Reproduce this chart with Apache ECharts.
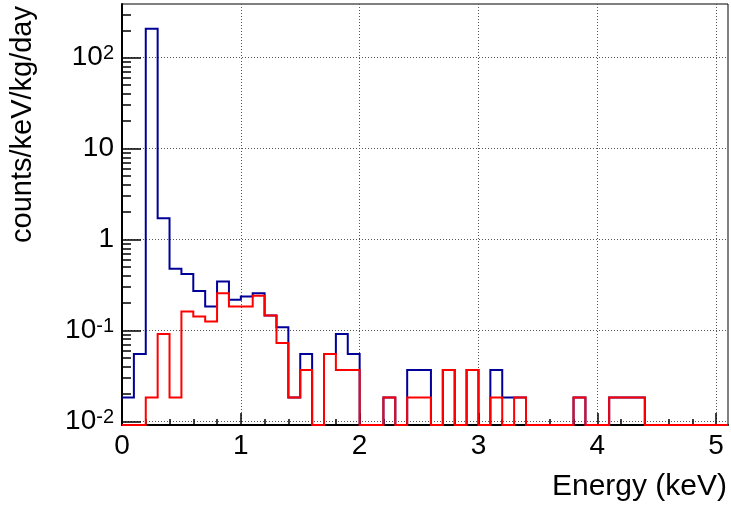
<!DOCTYPE html>
<html>
<head>
<meta charset="utf-8">
<script src="https://cdn.jsdelivr.net/npm/echarts@6/dist/echarts.min.js"></script>
<style>
  html, body { margin: 0; padding: 0; background: #fff; }
  #chart { width: 731px; height: 510px; }
</style>
</head>
<body>
<div id="chart"></div>
<script>
// binning (keV)
var binWidth = 0.1;
var xMax = 5.1;

// counts/keV/kg/day per 0.1 keV bin (0 = empty bin)
var allEvents = [
  0.0183, 0.055, 208, 1.71, 0.478, 0.418, 0.272, 0.183, 0.344, 0.218,
  0.236, 0.257, 0.146, 0.108, 0.0183, 0.055, 0, 0.055, 0.0915, 0.055,
  0, 0, 0.0183, 0, 0.0366, 0.0366, 0, 0.0366, 0, 0.0366,
  0, 0.0366, 0.0183, 0.0183, 0, 0, 0, 0, 0.0183, 0,
  0, 0.0183, 0.0183, 0.0183, 0, 0, 0, 0, 0, 0, 0
];
var selected = [
  0, 0, 0.0183, 0.0915, 0.0183, 0.161, 0.142, 0.125, 0.257, 0.183,
  0.183, 0.241, 0.146, 0.0726, 0.0183, 0.0366, 0, 0.055, 0.0366, 0.0366,
  0, 0, 0.0183, 0, 0.0183, 0.0183, 0, 0.0366, 0, 0.0366,
  0, 0.0183, 0, 0.0183, 0, 0, 0, 0, 0.0183, 0,
  0, 0.0183, 0.0183, 0.0183, 0, 0, 0, 0, 0, 0, 0
];

// axes
var xTicks = [0, 1, 2, 3, 4, 5];
var yMin = 0.0091, yMax = 390;
var yTicks = [0.01, 0.1, 1, 10, 100];
var yTickText = ['10{s|-2}', '10{s|-1}', '1', '10', '10{s|2}'];

var font = '"Liberation Sans", Arial, Helvetica, sans-serif';

// step outline, empty bins drop to the frame bottom like ROOT does
function steps(vals) {
  var pts = [];
  for (var i = 0; i < vals.length; i++) {
    pts.push([+(i * binWidth).toFixed(2), vals[i] > 0 ? vals[i] : yMin]);
  }
  pts.push([xMax, pts[pts.length - 1][1]]);
  return pts;
}

// minor tick positions
var xMinor = [];
for (var i = 1; i * 0.2 < xMax; i++) {
  if (i % 5) xMinor.push(+(i * 0.2).toFixed(1));
}
var yMinor = [];
for (var d = -2; d <= 2; d++) {
  for (var k = 2; k <= 9; k++) {
    var v = parseFloat((k * Math.pow(10, d)).toPrecision(3));
    if (v > yMin && v < yMax) yMinor.push(v);
  }
}

// always hand back a string, also for the axis extent values
function yLabel(val) {
  var idx = Math.round(Math.log10(val)) + 2;
  if (idx < 0 || idx >= yTickText.length || !isFinite(idx)) return '';
  return yTickText[idx];
}

var gridLine = { show: true, lineStyle: { color: '#555', type: [1, 2], width: 1 } };

var myChart = echarts.init(document.getElementById('chart'));
var option = {
  animation: false,
  backgroundColor: '#fff',
  grid: {
    left: 122, right: 3, top: 4, bottom: 85,
    show: true, borderColor: '#000', borderWidth: 1,
    outerBoundsMode: 'none'
  },
  xAxis: [
    {
      type: 'value', min: 0, max: xMax, interval: 1,
      axisLine: { show: true, lineStyle: { color: '#000', width: 2 } },
      axisTick: { show: true, inside: true, length: 12, customValues: xTicks, lineStyle: { color: '#000', width: 1.5 } },
      axisLabel: { customValues: xTicks, color: '#000', fontSize: 28, fontFamily: font, margin: 7 },
      splitLine: gridLine
    },
    {
      type: 'value', min: 0, max: xMax, position: 'bottom',
      axisLine: { show: false },
      axisTick: { show: true, inside: true, length: 6, customValues: xMinor, lineStyle: { color: '#000', width: 1.5 } },
      axisLabel: { show: false },
      splitLine: { show: false }
    }
  ],
  yAxis: [
    {
      type: 'log', logBase: 10, min: yMin, max: yMax,
      axisLine: { show: true, lineStyle: { color: '#000', width: 2 } },
      axisTick: { show: true, inside: true, length: 19, customValues: yTicks, lineStyle: { color: '#000', width: 1.5 } },
      axisLabel: {
        customValues: yTicks, color: '#000', fontSize: 28, fontFamily: font, margin: 8,
        formatter: yLabel,
        rich: {
          s: { fontSize: 20, fontFamily: font, color: '#000', verticalAlign: 'top', lineHeight: 20 }
        }
      },
      splitLine: gridLine
    },
    {
      type: 'log', logBase: 10, min: yMin, max: yMax, position: 'left',
      axisLine: { show: false },
      axisTick: { show: true, inside: true, length: 9, customValues: yMinor, lineStyle: { color: '#000', width: 1.5 } },
      axisLabel: { show: false },
      splitLine: { show: false }
    }
  ],
  graphic: [
    {
      type: 'text', x: 23, y: 6, rotation: Math.PI / 2,
      style: { text: 'counts/keV/kg/day', font: '29px ' + font, fill: '#000', align: 'right', verticalAlign: 'middle' }
    },
    {
      type: 'text', x: 727, y: 487,
      style: { text: 'Energy (keV)', font: '30px ' + font, fill: '#000', align: 'right', verticalAlign: 'middle' }
    }
  ],
  series: [
    {
      name: 'all', type: 'line', step: 'end', xAxisIndex: 0, yAxisIndex: 0,
      data: steps(allEvents), showSymbol: false, symbol: 'none', clip: false, z: 3,
      lineStyle: { color: '#000099', width: 2, cap: 'butt', join: 'miter' }
    },
    {
      name: 'selected', type: 'line', step: 'end', xAxisIndex: 0, yAxisIndex: 0,
      data: steps(selected), showSymbol: false, symbol: 'none', clip: false, z: 4,
      lineStyle: { color: '#ff0000', width: 2, cap: 'butt', join: 'miter' }
    }
  ]
};
myChart.setOption(option);
</script>
</body>
</html>
